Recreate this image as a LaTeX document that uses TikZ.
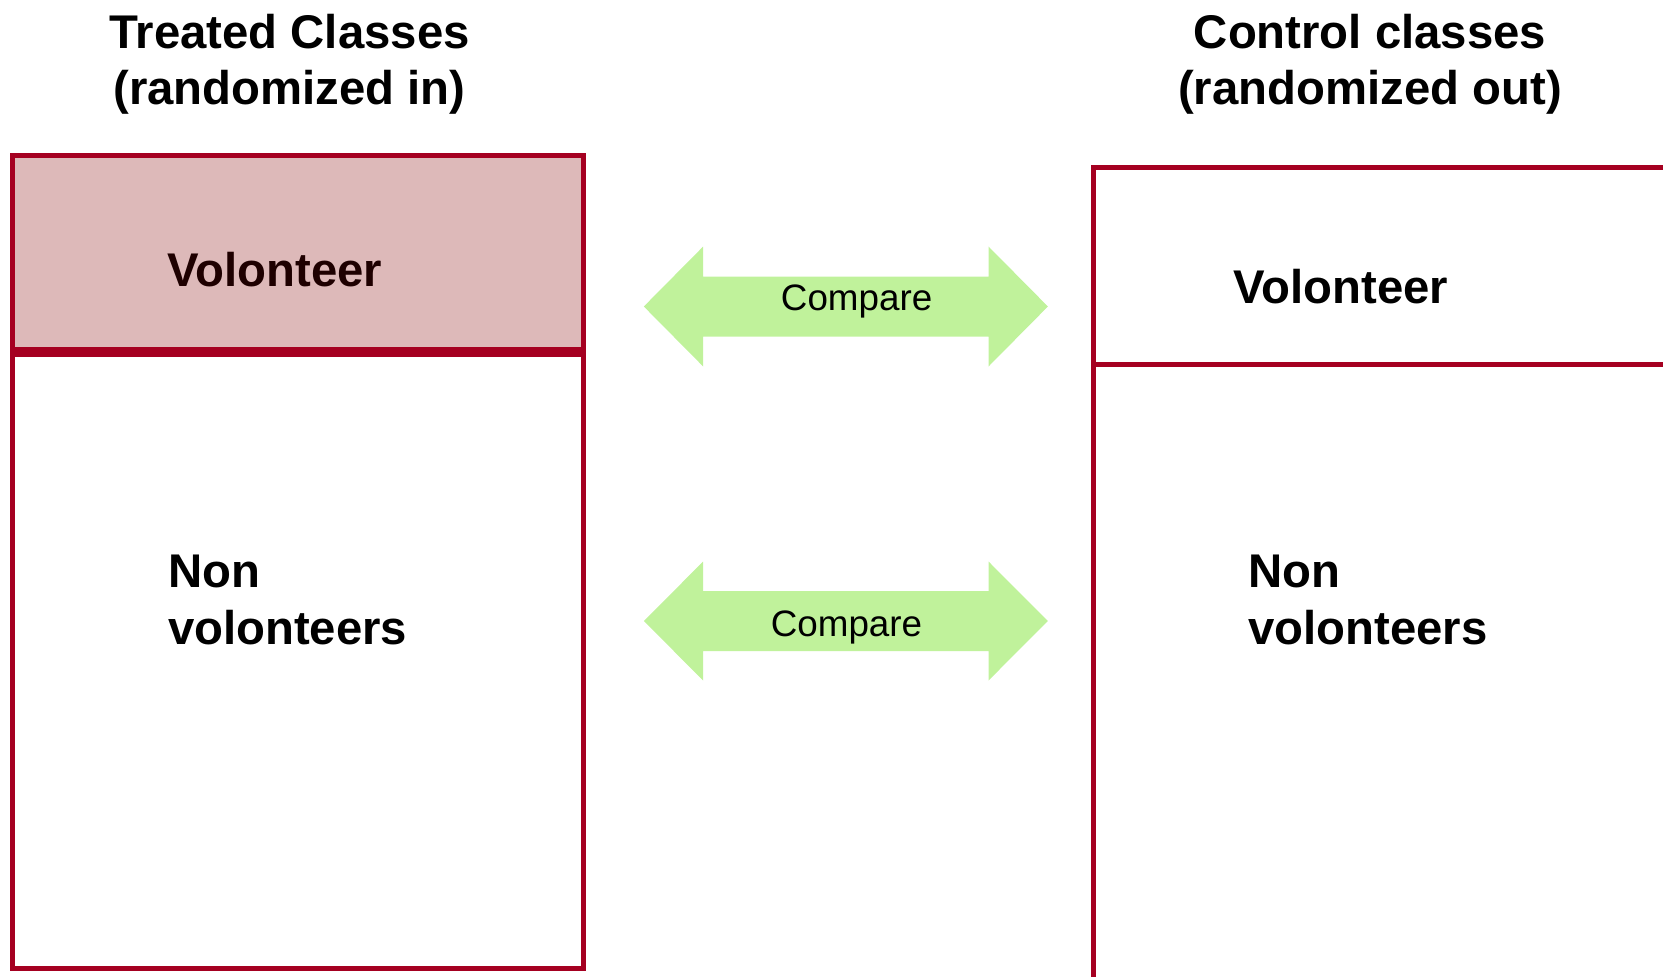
\documentclass[tikz,border=0pt]{standalone}
\usepackage{fontspec}
\setmainfont{Liberation Sans}
\definecolor{boxred}{HTML}{A50021}
\definecolor{volfill}{HTML}{DDB9B9}
\definecolor{voltext}{HTML}{1E0000}
\definecolor{arrowgreen}{HTML}{C0F29B}
\begin{document}
\begin{tikzpicture}[x=1pt,y=-1pt,
  classbox/.style={draw=boxred, line width=5pt, inner sep=0pt, outer sep=0pt, anchor=north west},
  bigtext/.style={font=\fontsize{47.3}{56.8}\selectfont\bfseries, inner sep=0pt, outer sep=0pt},
  cmptext/.style={font=\fontsize{36.8}{44}\selectfont, inner sep=0pt, outer sep=0pt, anchor=base},
  cmparrow/.style={fill=arrowgreen}]
\useasboundingbox (0,0) rectangle (1663,977);
\clip (0,0) rectangle (1663,977);

% left column
\node[classbox, fill=volfill, minimum width=570.2pt, minimum height=194.7pt] (tvol) at (12.8,155) {};
\node[classbox, minimum width=570.2pt, minimum height=613.6pt] (tnon) at (12.8,354.7) {};
% right column
\node[classbox, minimum width=572pt, minimum height=197pt] (cvol) at (1093,167) {};
\node[classbox, minimum width=572pt, minimum height=720pt] (cnon) at (1093,364) {};

% titles (base anchor = baseline of the last line)
\node[bigtext, align=center, anchor=base] (ttitle) at (289.6,104.8) {Treated Classes\\(randomized in)};
\node[bigtext, align=center, anchor=base] (ctitle) at (1370,104.8) {Control classes\\(randomized out)};

% labels
\node[bigtext, text=voltext, anchor=base west] (tvoll) at (167.6,286.5) {Volonteer};
\node[bigtext, anchor=base west] (cvoll) at (1233.5,303.3) {Volonteer};
\node[bigtext, align=left, anchor=base west] (tnonl) at (168,644.5) {Non\\volonteers};
\node[bigtext, align=left, anchor=base west] (cnonl) at (1248.3,644.5) {Non\\volonteers};

% compare arrows
\fill[cmparrow] (643.8,306.5) -- (703.2,246.5) -- (703.2,276.5) -- (988.5,276.5) -- (988.5,246.5) -- (1047.9,306.5) -- (988.5,366.5) -- (988.5,336.5) -- (703.2,336.5) -- (703.2,366.5) -- cycle;
\fill[cmparrow] (643.8,621) -- (703.2,561.5) -- (703.2,591) -- (988.5,591) -- (988.5,561.5) -- (1047.9,621) -- (988.5,680.5) -- (988.5,651) -- (703.2,651) -- (703.2,680.5) -- cycle;
\node[cmptext] (cmp1) at (856.6,310) {Compare};
\node[cmptext] (cmp2) at (846.5,636) {Compare};
\end{tikzpicture}
\end{document}
